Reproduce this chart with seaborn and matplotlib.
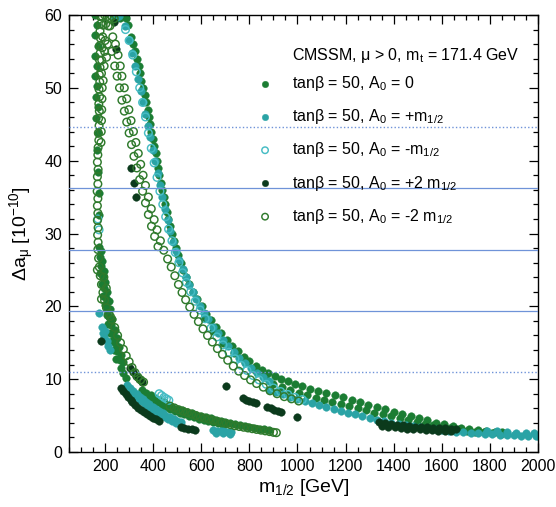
import matplotlib
matplotlib.use("Agg")
import matplotlib.pyplot as plt
from matplotlib.ticker import MultipleLocator
import pandas as pd
import seaborn as sns

# ---------------------------------------------------------------------------
# Data: (m_1/2 [GeV], Delta a_mu [1e-10]) for the CMSSM scan points
# ---------------------------------------------------------------------------

# tan(beta) = 50, A0 = 0
a0_zero_upper = [
    (158, 60.0), (167, 58.6), (160, 57.2), (169, 55.8), (158, 54.4), (167, 53.0),
    (160, 51.6), (168, 50.2), (161, 48.8), (169, 47.4), (163, 45.8), (170, 43.8),
    (166, 41.5), (171, 38.5), (173, 35.5), (174, 32.5),
    (248, 60.0), (260, 59.6), (273, 60.0), (286, 59.6), (297, 58.6),
    (307, 57.0), (316, 56.0), (323, 55.0), (331, 54.0), (339, 53.0), (345, 52.0),
    (351, 51.0), (357, 50.0), (364, 49.0), (371, 48.0), (377, 47.0), (382, 46.0),
    (387, 45.0), (393, 44.0), (399, 43.0), (404, 42.0), (410, 41.0), (415, 40.0),
    (421, 39.0), (426, 38.0), (432, 37.0), (437, 36.0), (443, 35.0), (450, 34.0),
    (456, 33.0), (463, 32.0), (469, 31.0), (477, 30.0), (485, 29.0), (494, 28.0),
    (504, 27.0), (514, 26.0), (525, 25.0), (538, 24.0), (551, 23.0), (566, 22.0),
    (583, 21.0), (601, 20.0), (620, 19.0), (640, 18.1), (660, 17.2), (682, 16.3),
    (705, 15.4), (728, 14.6), (752, 13.8), (776, 13.1), (800, 12.45), (826, 11.85),
    (852, 11.3), (878, 10.85), (905, 10.45), (932, 10.05), (960, 9.7), (990, 9.35),
    (1020, 9.0), (1052, 8.7), (1085, 8.4), (1120, 8.1), (1155, 7.8), (1190, 7.5),
    (1225, 7.2), (1260, 6.85), (1295, 6.5), (1330, 6.15), (1365, 5.85), (1400, 5.55),
    (1435, 5.25), (1470, 4.95), (1505, 4.65), (1540, 4.35), (1575, 4.05), (1610, 3.78),
    (1645, 3.55), (1680, 3.35), (1715, 3.15), (1750, 3.0), (1785, 2.88), (1820, 2.78),
    (1850, 2.7),
    (612, 18.4), (650, 16.6), (690, 15.0), (735, 13.6), (780, 12.3), (825, 11.2),
    (865, 10.3),
    (900, 9.3), (935, 8.9), (970, 8.5), (1005, 8.1), (1040, 7.8), (1075, 7.45),
    (1110, 7.15), (1145, 6.85), (1180, 6.6), (1215, 6.3), (1250, 6.0), (1285, 5.7),
    (1320, 5.4), (1355, 5.15), (1390, 4.9), (1425, 4.65), (1460, 4.4), (1495, 4.15),
    (1530, 3.9), (1565, 3.65), (1600, 3.45), (1635, 3.25), (1670, 3.1), (1705, 2.95),
    (1740, 2.8), (1775, 2.7), (1810, 2.6), (1845, 2.5),
]
a0_zero_left = [
    (175, 28.2), (180, 26.8), (185, 25.5), (178, 24.6), (190, 24.2), (186, 23.0),
    (196, 22.5), (192, 21.4), (203, 21.2), (198, 20.2), (210, 19.8), (206, 18.8),
    (218, 18.6), (214, 17.6), (225, 17.4), (222, 16.4), (233, 16.2), (230, 15.2),
    (242, 15.0), (238, 14.0), (250, 13.8), (247, 12.8), (260, 12.6), (268, 11.6),
    (276, 10.9), (285, 10.2),
    (182, 27.6), (188, 26.2), (195, 24.8), (200, 23.4), (208, 22.0), (215, 20.8),
    (222, 19.6), (230, 18.2), (240, 16.8), (250, 15.6), (258, 14.4), (266, 13.3),
    (274, 12.3),
]
a0_zero_lower = [
    (355, 8.5), (372, 8.15), (390, 7.8), (408, 7.45), (426, 7.1), (444, 6.8),
    (462, 6.5), (480, 6.2), (500, 5.95), (520, 5.7), (540, 5.5), (560, 5.3),
    (580, 5.1), (600, 4.95), (620, 4.8), (640, 4.6), (660, 4.45), (680, 4.3),
    (700, 4.15), (720, 4.0), (740, 3.8), (760, 3.68), (780, 3.55), (800, 3.42),
    (820, 3.3), (840, 3.2), (860, 3.1), (880, 3.0),
    (364, 7.85), (381, 7.5), (399, 7.15), (417, 6.83), (435, 6.5), (453, 6.2),
    (471, 5.9), (490, 5.62), (510, 5.37), (530, 5.15), (550, 4.95), (570, 4.75),
    (590, 4.57), (610, 4.42), (630, 4.25), (650, 4.07), (670, 3.92), (690, 3.77),
]

# tan(beta) = 50, A0 = +m_1/2
a0_plus_upper = [
    (232, 60.0),
    (240, 59.5), (258, 59.8), (282, 58.5), (298, 56.5), (312, 54.8), (325, 53.0),
    (337, 51.2), (348, 49.6), (358, 48.0), (368, 46.4), (378, 44.8), (388, 43.2),
    (398, 41.5), (408, 39.9), (418, 38.3), (428, 36.6), (438, 35.0), (449, 33.4),
    (460, 31.8), (472, 30.3), (484, 28.9), (496, 27.6), (509, 26.3), (522, 25.1),
    (536, 24.0), (550, 22.9), (565, 21.9), (580, 21.0), (596, 20.0), (612, 19.1),
    (630, 18.2), (650, 17.2), (670, 16.3), (690, 15.4), (712, 14.5), (735, 13.7),
    (758, 12.9), (782, 12.2), (806, 11.5), (830, 10.9), (855, 10.3), (880, 9.8),
    (880, 8.5), (910, 8.2), (940, 7.9), (970, 7.6), (1000, 7.3), (1030, 7.0),
    (1060, 6.7), (1090, 6.4), (1120, 6.15), (1150, 5.9), (1180, 5.65), (1210, 5.4),
    (1240, 5.15), (1270, 4.9), (1300, 4.65), (1330, 4.4), (1360, 4.2), (1390, 4.0),
    (1420, 3.85), (1450, 3.7), (1480, 3.55), (1510, 3.4), (1540, 3.25), (1570, 3.1),
    (1600, 3.0), (1630, 2.9), (1660, 2.8), (1690, 2.7), (1720, 2.6), (1750, 2.55),
    (1780, 2.5), (1810, 2.45), (1840, 2.4), (1870, 2.35), (1900, 2.3), (1930, 2.25),
    (1960, 2.2), (1990, 2.2), (2000, 2.25),
    (1790, 2.95), (1830, 2.85), (1870, 2.75), (1910, 2.65), (1950, 2.6), (1985, 2.55),
]
a0_plus_lower = [
    (292, 9.2), (305, 8.8), (318, 8.4), (331, 8.0), (344, 7.6), (357, 7.25),
    (370, 6.9), (384, 6.55), (398, 6.2), (412, 5.9), (426, 5.6), (440, 5.3),
    (455, 5.0), (470, 4.75), (485, 4.5), (500, 4.3), (515, 4.1),
    (299, 8.6), (312, 8.2), (325, 7.8), (338, 7.4), (351, 7.0), (364, 6.65),
    (377, 6.3), (391, 5.95), (405, 5.65), (419, 5.35), (433, 5.05), (448, 4.75),
    (463, 4.5), (478, 4.25), (493, 4.05),
    (650, 3.0), (665, 2.95), (680, 2.9), (695, 2.85), (710, 2.8), (725, 2.75),
    (660, 2.6), (690, 2.55), (720, 2.5),
    (176, 19.1), (186, 17.2), (190, 16.4), (195, 15.8), (200, 16.6), (206, 15.2),
    (212, 14.6), (220, 14.0),
]

# tan(beta) = 50, A0 = -m_1/2
a0_minus_points = [
    (285, 58.0), (300, 56.5), (315, 54.5), (330, 52.2), (344, 50.0), (356, 48.0),
    (368, 46.0), (380, 43.8), (392, 41.7), (404, 39.7), (416, 37.7), (428, 35.8),
    (440, 34.0), (452, 32.3), (464, 30.6), (478, 29.0), (492, 27.4), (507, 26.0),
    (522, 24.6), (538, 23.3), (556, 22.0), (575, 20.7), (595, 19.5), (616, 18.3),
    (640, 17.0), (665, 15.8), (690, 14.7), (715, 13.7), (740, 12.8), (765, 11.9),
    (790, 11.2), (815, 10.5), (840, 9.9), (870, 9.3), (900, 8.8), (930, 8.3),
    (960, 7.9), (990, 7.5), (1020, 7.2),
    (170, 32.0), (175, 30.5),
    (425, 8.0), (435, 7.75), (445, 7.5), (455, 7.3), (465, 7.1),
]

# tan(beta) = 50, A0 = +2 m_1/2
a0_plus2_points = [
    (237, 59.0), (245, 55.4), (307, 39.0), (320, 37.0), (328, 35.0),
    (183, 15.3),
    (305, 11.6), (318, 11.0), (330, 10.5), (342, 10.0), (355, 9.6),
    (265, 8.8), (275, 8.4), (285, 8.0), (296, 7.6), (306, 7.2),
    (312, 6.9), (325, 6.5), (338, 6.1), (350, 5.8), (362, 5.5), (375, 5.2),
    (388, 4.95), (400, 4.7), (412, 4.5), (423, 4.3),
    (515, 3.4), (530, 3.3), (545, 3.2), (560, 3.1), (572, 3.0),
    (702, 9.1), (772, 7.4), (786, 7.2), (800, 7.0), (814, 6.85), (826, 6.7),
    (873, 6.2), (888, 6.0), (903, 5.8), (918, 5.6), (930, 5.5), (997, 4.8),
    (1340, 4.1), (1365, 3.95), (1390, 3.85), (1415, 3.75), (1440, 3.65), (1465, 3.6),
    (1490, 3.5), (1515, 3.45), (1540, 3.4), (1565, 3.35), (1590, 3.3), (1615, 3.25),
    (1640, 3.2), (1660, 3.15),
    (1352, 3.6), (1378, 3.5), (1404, 3.4), (1430, 3.3), (1456, 3.2), (1482, 3.15),
    (1508, 3.1), (1534, 3.05), (1560, 3.0), (1586, 2.95), (1612, 2.9), (1638, 2.85),
]

# tan(beta) = 50, A0 = -2 m_1/2
a0_minus2_upper = [
    (180, 59.8), (182, 58.8), (179, 57.8), (181, 56.8), (178, 55.8), (180, 54.8),
    (177, 53.8), (179, 52.8), (176, 51.8), (178, 50.8), (175, 49.8), (177, 48.8),
    (174, 47.8), (176, 46.8), (173, 45.8), (175, 44.8), (172, 43.8), (174, 42.8),
    (171, 41.8),
    (188, 59.8), (198, 60.0), (208, 59.8), (218, 59.5), (192, 58.6), (203, 58.8),
    (213, 58.5), (190, 57.0), (200, 56.5), (210, 56.0), (188, 55.5), (198, 55.0),
    (206, 54.2), (186, 53.8), (196, 53.0), (185, 52.0), (192, 51.0),
    (228, 59.8), (238, 59.5),
    (188, 50.0), (187, 48.5), (186, 47.0), (185, 45.5), (184, 44.0), (183, 42.5),
    (170, 40.8), (168, 39.8), (171, 38.8), (168, 37.8), (170, 36.8), (167, 35.8),
    (170, 34.8), (168, 33.8), (170, 32.8), (168, 31.8), (171, 30.8), (169, 29.8),
    (171, 28.8),
    (220, 58.5), (232, 57.0), (243, 56.0), (254, 54.5), (263, 53.0), (270, 51.6),
    (280, 50.0), (290, 48.5), (299, 47.0), (308, 45.5), (318, 44.0), (328, 42.5),
    (338, 41.0), (348, 39.5), (358, 38.0), (368, 36.6), (380, 35.0), (392, 33.4),
    (404, 31.9), (416, 30.5), (430, 29.0), (444, 27.7), (460, 26.5), (475, 25.4),
    (490, 24.2), (505, 23.0), (520, 21.9), (535, 20.9), (552, 19.9), (570, 18.9),
    (588, 17.9), (607, 16.9), (626, 16.0), (646, 15.1), (667, 14.2), (688, 13.4),
    (710, 12.6), (733, 11.8), (756, 11.1), (780, 10.5), (805, 9.9), (830, 9.4),
    (858, 8.9), (886, 8.4), (915, 8.0), (945, 7.6), (975, 7.3), (1005, 7.0),
    (228, 55.0), (240, 53.0), (250, 51.6), (260, 50.0), (270, 48.3), (280, 46.8),
    (290, 45.3), (300, 43.8), (310, 42.2), (320, 40.6), (332, 39.0), (344, 37.4),
    (356, 35.8), (368, 34.2), (380, 32.6), (393, 31.0), (406, 29.6), (420, 28.2),
]
a0_minus2_left = [
    (170, 27.8), (173, 26.6), (176, 25.4), (180, 24.2), (185, 23.0), (191, 21.9),
    (198, 20.8), (206, 19.8), (215, 19.0), (222, 18.6),
    (228, 18.2), (240, 17.1), (252, 16.0), (264, 15.0), (276, 14.1), (288, 13.2),
    (300, 12.4), (312, 11.6), (324, 10.9), (336, 10.3), (348, 9.9), (360, 9.6),
    (168, 25.0), (185, 21.0), (195, 24.0), (205, 22.5),
]
a0_minus2_lower = [
    (470, 6.3), (488, 6.05), (506, 5.8), (524, 5.6), (542, 5.4), (560, 5.2),
    (578, 5.0), (596, 4.8), (614, 4.65), (632, 4.5), (650, 4.35), (668, 4.2),
    (686, 4.05), (704, 3.9), (722, 3.75), (740, 3.6), (758, 3.5), (776, 3.4),
    (794, 3.3), (812, 3.2), (830, 3.1), (848, 3.0), (866, 2.9), (884, 2.8),
    (900, 2.7), (912, 2.65),
]

series_labels = [
    "tanβ = 50, A$_0$ = 0",
    "tanβ = 50, A$_0$ = +m$_{1/2}$",
    "tanβ = 50, A$_0$ = -m$_{1/2}$",
    "tanβ = 50, A$_0$ = +2 m$_{1/2}$",
    "tanβ = 50, A$_0$ = -2 m$_{1/2}$",
]
legend_title = "CMSSM, μ > 0, m$_t$ = 171.4 GeV"

# g-2 discrepancy: central value and 1-sigma band (solid), 2-sigma band (dotted)
g2_solid_levels = [19.4, 27.8, 36.2]
g2_dotted_levels = [11.0, 44.6]

x_major_ticks = [200, 400, 600, 800, 1000, 1200, 1400, 1600, 1800, 2000]
y_major_ticks = [0, 10, 20, 30, 40, 50, 60]

# ---------------------------------------------------------------------------
# Styling
# ---------------------------------------------------------------------------
sns.set_theme(style="ticks")
plt.rcParams.update({
    "font.family": ["Liberation Sans", "DejaVu Sans"],
    "mathtext.fontset": "custom",
    "mathtext.rm": "Liberation Sans",
    "mathtext.it": "Liberation Sans:italic",
    "mathtext.bf": "Liberation Sans:bold",
    "mathtext.default": "regular",
    "text.color": "black",
    "axes.labelcolor": "black",
    "xtick.color": "black",
    "ytick.color": "black",
    "axes.edgecolor": "black",
})

fig = plt.figure(figsize=(5.56, 5.07), dpi=100)
ax = fig.add_axes([69 / 556, 1 - 452 / 507, (538 - 69) / 556, (452 - 15) / 507])

line_color = "#6f93d8"
for lvl in g2_solid_levels:
    ax.axhline(lvl, color=line_color, lw=0.9, zorder=3)
for lvl in g2_dotted_levels:
    ax.axhline(lvl, color=line_color, lw=1.0, ls=(0, (1, 1.6)), zorder=3)

marker_size = 30


def plot_series(points, color, label, filled=True):
    df = pd.DataFrame(points, columns=["m12", "damu"])
    if filled:
        sns.scatterplot(data=df, x="m12", y="damu", ax=ax, color=color,
                        edgecolor=color, linewidth=0.3, s=marker_size,
                        label=label, legend=False, zorder=2)
    else:
        sns.scatterplot(data=df, x="m12", y="damu", ax=ax, facecolor="none",
                        edgecolor=color, linewidth=1.05, s=marker_size,
                        label=label, legend=False, zorder=2)


plot_series(a0_zero_upper + a0_zero_left + a0_zero_lower, "#1b7d33", series_labels[0])
plot_series(a0_plus_upper + a0_plus_lower, "#2aa3a5", series_labels[1])
plot_series(a0_minus_points, "#46bcc4", series_labels[2], filled=False)
plot_series(a0_plus2_points, "#0b3a1c", series_labels[3])
plot_series(a0_minus2_upper + a0_minus2_left + a0_minus2_lower, "#2f7a2c",
            series_labels[4], filled=False)

ax.set_xlim(50, 2000)
ax.set_ylim(0, 60)
ax.set_xticks(x_major_ticks)
ax.set_yticks(y_major_ticks)
ax.xaxis.set_minor_locator(MultipleLocator(50))
ax.yaxis.set_minor_locator(MultipleLocator(2))
ax.tick_params(which="both", direction="in", top=True, right=True, width=0.9,
               labelsize=11.5, pad=5)
ax.tick_params(which="major", length=6.5)
ax.tick_params(which="minor", length=3.5)
for sp in ax.spines.values():
    sp.set_linewidth(1.0)
    sp.set_color("black")

ax.set_xlabel("m$_{1/2}$ [GeV]", fontsize=14, labelpad=2)
ax.set_ylabel("Δa$_{μ}$ [10$^{-10}$]", fontsize=14, labelpad=6)

handles, labels = ax.get_legend_handles_labels()
ax.legend(handles, labels, loc="upper left", bbox_to_anchor=(0.401, 0.865),
          frameon=False, fontsize=11.5, handlelength=1.0, handletextpad=1.2,
          borderpad=0, borderaxespad=0, labelspacing=0.89, scatterpoints=1,
          markerscale=0.85)
ax.text(0.475, 0.908, legend_title, transform=ax.transAxes, fontsize=11.5,
        ha="left", va="center")

fig.savefig("out.png", dpi=100)
